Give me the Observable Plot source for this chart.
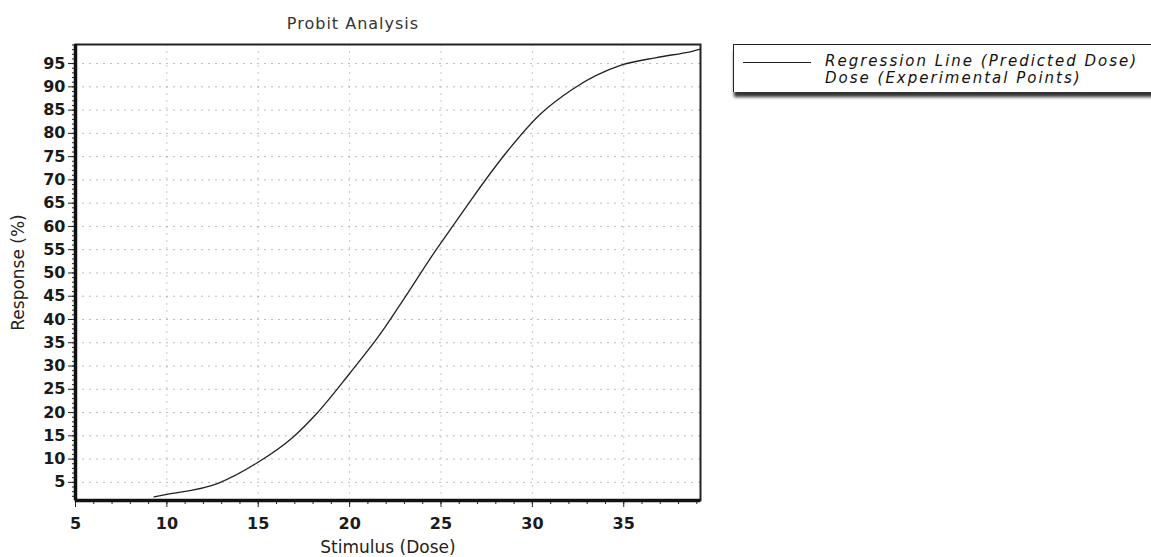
<!DOCTYPE html>
<html>
<head>
<meta charset="utf-8">
<script src="https://cdn.jsdelivr.net/npm/d3@7"></script>
<script src="https://cdn.jsdelivr.net/npm/@observablehq/plot@0.6"></script>
<style>
  html, body { margin: 0; padding: 0; background: #fff; }
  #wrap { position: relative; width: 1151px; height: 557px; overflow: hidden; font-family: "DejaVu Sans", sans-serif; }
  #title { position: absolute; left: 353px; top: 14px; transform: translateX(-50%); font-size: 16px; letter-spacing: 1px; color: #333; white-space: nowrap; }
  #legend { position: absolute; left: 733px; top: 44px; width: 440px; height: 47px; border: 1.5px solid #222; border-bottom: none; background: #fff; box-shadow: 0 6px 3px -1px #333; }
  #legend .row { position: absolute; left: 91px; font-size: 15px; font-style: italic; color: #111; white-space: nowrap; letter-spacing: 2px; line-height: 15px; }
  #legend .swatch { position: absolute; left: 9px; top: 17px; width: 68px; height: 0; border-top: 1.2px solid #222; }
</style>
</head>
<body>
<div id="wrap">
  <div id="chart"></div>
  <div id="title"></div>
  <div id="legend"><div class="swatch"></div><div class="row" id="leg1" style="top:9px"></div><div class="row" id="leg2" style="top:26px"></div></div>
</div>
<script>
// Data
const dose = [9.3, 10.0, 12.8, 14.9, 16.9, 18.2, 20.0, 21.7, 22.9, 24.6, 25.9, 26.7, 28.6, 30.4, 32.2, 34.9, 36.8, 38.8, 39.2];
const response = [1.9, 2.4, 4.8, 9.1, 14.7, 19.8, 28.4, 37.0, 44.0, 54.2, 61.5, 66.0, 76.0, 84.0, 89.5, 94.7, 96.3, 97.7, 98.1];

const xTicks = [5, 10, 15, 20, 25, 30, 35];
const yTicks = [5, 10, 15, 20, 25, 30, 35, 40, 45, 50, 55, 60, 65, 70, 75, 80, 85, 90, 95];
const xMinor = d3.range(5, 40, 1);
const yMinor = d3.range(2, 100, 1);
const xDomain = [5, 39.2];
const yDomain = [1.1, 99.1];

const titleText = "Probit Analysis";
const xLabel = "Stimulus (Dose)";
const yLabel = "Response (%)";
const legendLabels = ["Regression Line (Predicted Dose)", "Dose (Experimental Points)"];

const curve = dose.map((d, i) => ({dose: d, response: response[i]}));

document.getElementById("title").textContent = titleText;
document.getElementById("leg1").textContent = legendLabels[0];
document.getElementById("leg2").textContent = legendLabels[1];

const chart = Plot.plot({
  width: 1151,
  height: 557,
  marginLeft: 75,
  marginRight: 451,
  marginTop: 44,
  marginBottom: 57,
  x: {domain: xDomain},
  y: {domain: yDomain},
  style: {fontFamily: "DejaVu Sans, sans-serif", fontSize: "16px", color: "#111", background: "#fff"},
  marks: [
    Plot.gridY(yTicks, {stroke: "#777", strokeOpacity: 0.5, strokeDasharray: "2,5"}),
    Plot.gridX(xTicks, {stroke: "#777", strokeOpacity: 0.4, strokeDasharray: "2,5"}),
    Plot.axisY(yMinor, {tickSize: 3, text: null, label: null, stroke: "#222"}),
    Plot.axisX(xMinor, {tickSize: 4, text: null, label: null, stroke: "#222"}),
    Plot.axisY(yTicks, {tickSize: 7, tickPadding: 3, label: null, fontSize: 16, fontWeight: "bold", stroke: "#222", fill: "#1a1a1a"}),
    Plot.axisX(xTicks, {tickSize: 7, tickPadding: 10, label: null, fontSize: 16, fontWeight: "bold", stroke: "#222", fill: "#1a1a1a"}),
    Plot.text([xLabel], {frameAnchor: "bottom", dy: 47, lineAnchor: "middle", textAnchor: "middle", fontSize: 17, fill: "#222"}),
    Plot.text([yLabel], {frameAnchor: "left", dx: -57, rotate: -90, textAnchor: "middle", lineAnchor: "middle", fontSize: 17, fill: "#222"}),
    Plot.frame({stroke: "#222", strokeWidth: 2}),
    Plot.ruleX([xDomain[0]], {stroke: "#111", strokeWidth: 3.5}),
    Plot.ruleY([yDomain[0]], {stroke: "#111", strokeWidth: 3.5}),
    Plot.line(curve, {x: "dose", y: "response", curve: "monotone-x", stroke: "#222", strokeWidth: 1.3})
  ]
});
document.getElementById("chart").appendChild(chart);
</script>
</body>
</html>
